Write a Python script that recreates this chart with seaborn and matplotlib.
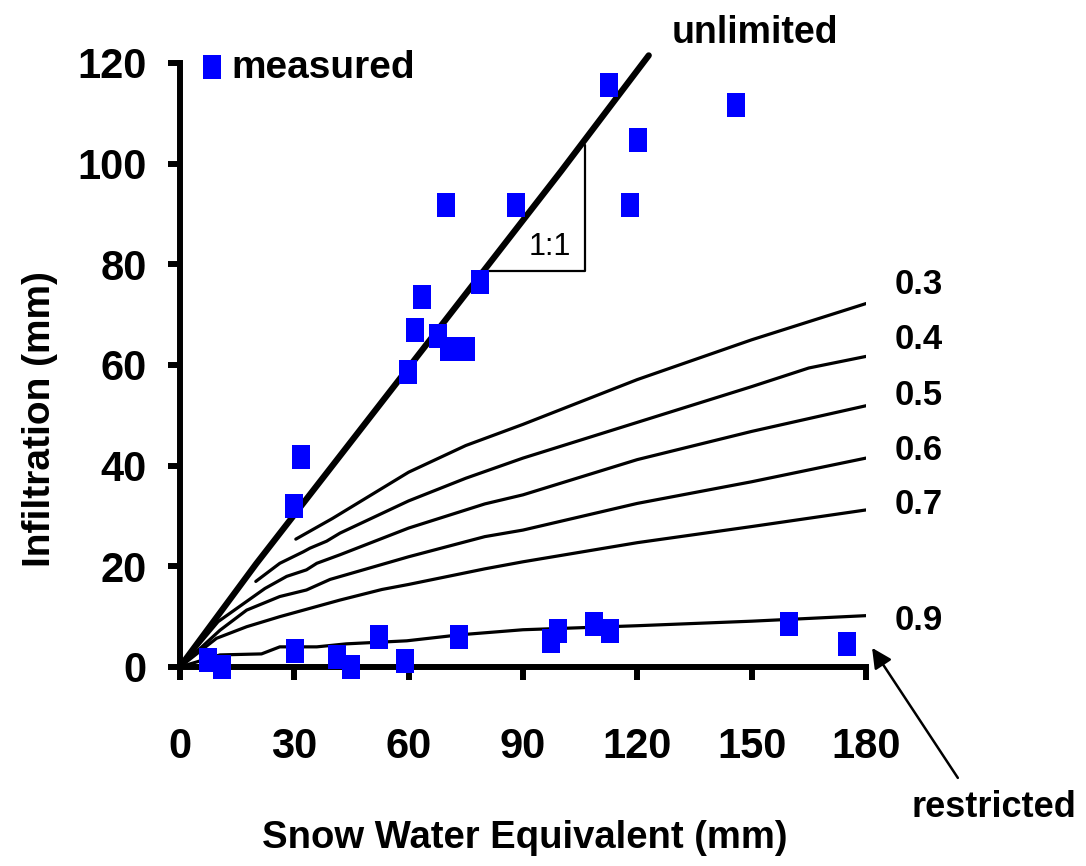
import numpy as np
import pandas as pd
import matplotlib
matplotlib.use("Agg")
import matplotlib.pyplot as plt
import seaborn as sns

# measured infiltration vs snow water equivalent (mm)
swe_measured = [112.6, 120.2, 146.0, 118.1, 69.8, 88.2, 78.7, 63.5, 61.7, 67.7,
                70.6, 75.0, 59.8, 31.8, 29.9,
                7.3, 11.0, 30.2, 41.1, 44.9, 52.3, 59.0, 73.3, 97.4, 99.2,
                108.7, 112.9, 159.8, 175.0]
inf_measured = [115.7, 104.6, 111.7, 91.8, 91.8, 91.8, 76.5, 73.6, 67.0, 65.8,
                63.2, 63.2, 58.6, 41.7, 32.0,
                1.4, 0.0, 3.2, 2.0, 0.0, 6.0, 1.2, 6.0, 5.2, 7.2,
                8.5, 7.2, 8.5, 4.6]

# unlimited (1:1) line
swe_unlim = [0, 20, 40, 60, 80, 100, 123]
inf_unlim = [0, 20.5, 40, 59.5, 79, 98.5, 121.5]

# modelled curves for several values of the index
swe_03 = [30.4, 40, 60, 75, 90, 120, 150, 180]
inf_03 = [25.4, 29.5, 38.7, 44.0, 48.2, 57.1, 65.0, 72.2]
swe_04 = [19.9, 26.2, 32.4, 34.1, 38.5, 42, 60, 75, 90, 120, 150, 165, 180]
inf_04 = [17.0, 20.6, 22.9, 23.6, 25.0, 26.6, 33.0, 37.5, 41.5, 48.6, 55.7, 59.4, 61.7]
swe_05 = [0, 10, 22.3, 28, 33.2, 35.9, 42, 60, 80, 90, 120, 150, 180]
inf_05 = [0, 9.0, 15.6, 18.0, 19.3, 20.6, 22.3, 27.6, 32.4, 34.2, 41.2, 46.8, 51.9]
swe_06 = [0, 10.5, 17.5, 26.2, 33.2, 39.4, 60, 80, 90, 120, 150, 180]
inf_06 = [0, 7.3, 11.3, 14.0, 15.3, 17.4, 21.9, 25.9, 27.2, 32.5, 36.8, 41.5]
swe_07 = [0, 9.6, 17.5, 26.2, 42, 53, 60, 80, 90, 120, 150, 180]
inf_07 = [0, 5.7, 8.0, 10.0, 13.3, 15.4, 16.4, 19.5, 20.9, 24.7, 27.9, 31.2]
swe_09 = [0, 10.5, 21.4, 26.2, 35.9, 43.7, 59.5, 73.5, 90, 120, 150, 180]
inf_09 = [0, 2.4, 2.6, 4.0, 4.0, 4.6, 5.2, 6.4, 7.4, 8.2, 9.1, 10.2]

curve_labels = ["0.3", "0.4", "0.5", "0.6", "0.7", "0.9"]
label_y = [75.9, 65.0, 54.0, 43.1, 32.2, 9.3]

x_ticks = [0, 30, 60, 90, 120, 150, 180]
y_ticks = [0, 20, 40, 60, 80, 100, 120]

sns.set_style("ticks")
plt.rcParams["font.family"] = ["Liberation Sans", "DejaVu Sans"]
plt.rcParams["font.weight"] = "bold"
for key in ["text.color", "axes.labelcolor", "xtick.color", "ytick.color", "axes.edgecolor"]:
    plt.rcParams[key] = "black"

fig = plt.figure(figsize=(10.86, 8.66), dpi=100)
ax = fig.add_axes([0.1657, 0.2298, 0.6317, 0.6975])

curves = [(swe_03, inf_03), (swe_04, inf_04), (swe_05, inf_05),
          (swe_06, inf_06), (swe_07, inf_07), (swe_09, inf_09)]
for xs, ys in curves:
    sns.lineplot(x=xs, y=ys, ax=ax, color="black", linewidth=2.3,
                 estimator=None, sort=False)

sns.lineplot(x=swe_unlim, y=inf_unlim, ax=ax, color="black", linewidth=4.5,
             estimator=None, sort=False, clip_on=False)

# 1:1 slope triangle
ax.plot([78.7, 106.3, 106.3], [78.7, 78.7, 103.8], color="black", linewidth=1.6)
ax.text(97.0, 83.5, "1:1", fontsize=22, fontweight="normal", ha="center", va="center")

rect = [(-0.37, -0.5), (0.37, -0.5), (0.37, 0.5), (-0.37, 0.5)]
sns.scatterplot(x=swe_measured, y=inf_measured, ax=ax, marker=rect, s=300,
                color="#0000ff", linewidth=0, label="measured", zorder=5,
                clip_on=False)

ax.set_xlim(0, 180)
ax.set_ylim(0, 120)
ax.set_xticks(x_ticks)
ax.set_yticks(y_ticks)
sns.despine(ax=ax)
for side in ["left", "bottom"]:
    ax.spines[side].set_linewidth(4.3)
ax.tick_params(axis="both", width=4.3, length=9, labelsize=30, colors="black")
ax.tick_params(axis="x", pad=34)
ax.tick_params(axis="y", pad=15)
for lab in ax.get_xticklabels() + ax.get_yticklabels():
    lab.set_fontweight("bold")

ax.text(0.503, -0.283, "Snow Water Equivalent (mm)", transform=ax.transAxes,
        fontsize=27.5, fontweight="bold", ha="center", va="center")
ax.text(-0.204, 0.41, "Infiltration (mm)", transform=ax.transAxes,
        fontsize=28, fontweight="bold", ha="center", va="center", rotation=90)

for lab, ly in zip(curve_labels, label_y):
    ax.text(187.5, ly, lab, fontsize=25, fontweight="bold", ha="left", va="center")

ax.text(129, 125.9, "unlimited", fontsize=27, fontweight="bold", ha="left", va="center")
ax.annotate("restricted", xy=(181.6, 3.8), xytext=(192, -28),
            fontsize=26, fontweight="bold", ha="left", va="center",
            annotation_clip=False,
            arrowprops=dict(arrowstyle="-|>", color="black", lw=1.8,
                            mutation_scale=30, shrinkA=8, shrinkB=0,
                            relpos=(0.33, 1.0)))

leg = ax.legend(loc="upper left", bbox_to_anchor=(0.0247, 1.022), frameon=False,
                fontsize=28, handlelength=0.8, handletextpad=0.08, borderpad=0,
                borderaxespad=0)
for t in leg.get_texts():
    t.set_fontweight("bold")

fig.savefig("out.png", dpi=100)
